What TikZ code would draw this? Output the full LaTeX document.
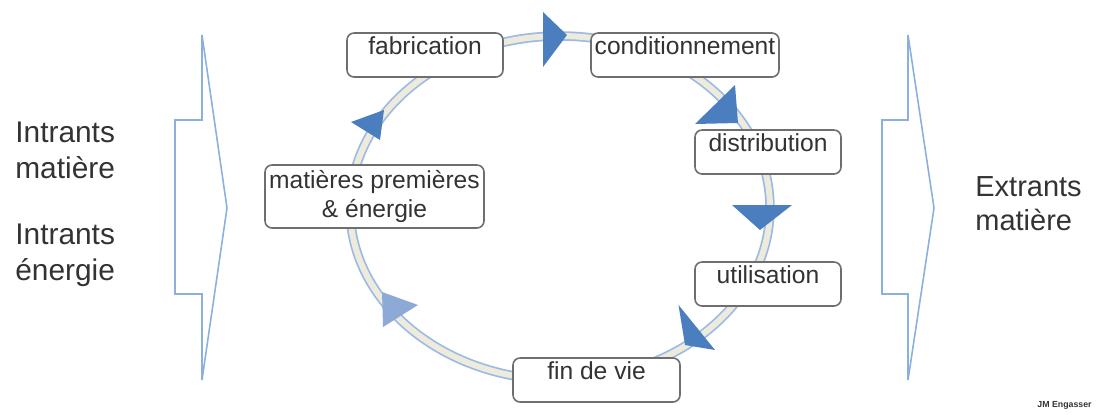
\documentclass[tikz,border=0pt]{standalone}
\usepackage{fontspec}
\setmainfont{Liberation Sans}
\usetikzlibrary{positioning}
\definecolor{cring}{HTML}{9BBBE5}
\definecolor{cbeige}{HTML}{EEEBDD}
\definecolor{ctip}{HTML}{4A7EBF}
\definecolor{clight}{HTML}{8DAAD6}
\definecolor{cflow}{HTML}{8BB0DD}
\definecolor{cbox}{HTML}{6E6E6E}
\definecolor{ctext}{HTML}{333333}
\tikzset{
  every picture/.style={text=ctext},
  stage/.style={draw=cbox, fill=white, line width=0.9pt, rounded corners=4pt,
                inner xsep=0pt, inner ysep=0pt, font=\fontsize{14}{16.7}\selectfont},
  oneline/.style={stage, text height=0.42cm, text depth=0.46cm},
  ring/.style={draw=cring, line width=0.035cm, double=cbeige, double distance=0.12cm},
  tip/.style={fill=ctip},
  flow/.style={draw=cflow, line width=0.9pt, line join=miter},
  side/.style={align=left, inner sep=0pt, anchor=north west},
}

\begin{document}
\begin{tikzpicture}
  \useasboundingbox (0,0) rectangle (21.98,-8.28);
  % the cycle
  \coordinate (c) at (11.2,-4.16);
  \draw[ring] (c) ellipse [x radius=4.2cm, y radius=3.44cm];
  \foreach \a/\b/\t in {
      {10.86,-0.24}/{10.86,-1.34}/{11.34,-0.7},
      {14.7,-1.7}/{13.9,-2.48}/{14.76,-2.46},
      {14.64,-4.1}/{15.84,-4.1}/{15.2,-4.6},
      {13.57,-6.1}/{14.3,-7.0}/{13.7,-6.9},
      {7.02,-2.44}/{7.6,-2.8}/{7.68,-2.2}}
    \fill[tip] (\a) -- (\b) -- (\t) -- cycle;
  \fill[clight] (7.64,-5.84) -- (8.36,-6.1) -- (7.66,-6.54) -- cycle;
  % stages
  \node[oneline, minimum width=3.12cm] (fab) at (8.5,-1.1) {fabrication};
  \node[oneline, minimum width=3.76cm] (cond) at (13.7,-1.1) {conditionnement};
  \node[oneline, minimum width=2.92cm] (dist) at (15.36,-3.04) {distribution};
  \node[oneline, minimum width=2.92cm] (util) at (15.36,-5.68) {utilisation};
  \node[oneline, minimum width=3.34cm] (fin) at (11.93,-7.6) {fin de vie};
  \node[stage, minimum width=4.38cm, minimum height=1.26cm, align=center] (mat)
    at (7.49,-3.93) {matières premières\\\& énergie};
  % inputs and outputs
  \draw[flow] (4.04,-0.7) -- (4.54,-4.16) -- (4.04,-7.6) -- (4.04,-5.88)
    -- (3.5,-5.88) -- (3.5,-2.4) -- (4.04,-2.4) -- cycle;
  \draw[flow] (18.16,-0.7) -- (18.68,-4.16) -- (18.16,-7.6) -- (18.16,-5.88)
    -- (17.64,-5.88) -- (17.64,-2.4) -- (18.16,-2.4) -- cycle;
  \node[side, font=\fontsize{17}{20.8}\selectfont] (inmat) at (0.3,-2.43) {Intrants\\matière};
  \node[side, font=\fontsize{17}{20.8}\selectfont] (inen) at (0.3,-4.47) {Intrants\\énergie};
  \node[side, font=\fontsize{16.5}{19.4}\selectfont] (outmat) at (19.5,-3.52) {Extrants\\matière};
  \node[anchor=south east, inner sep=0pt, font=\fontsize{5}{6}\selectfont\bfseries] (sig) at (21.84,-8.2) {JM Engasser};
\end{tikzpicture}
\end{document}
